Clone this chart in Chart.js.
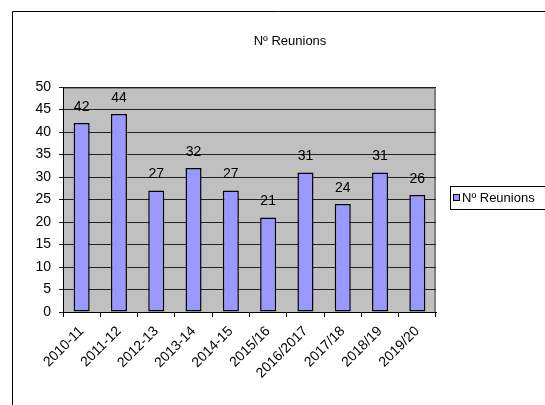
<!DOCTYPE html>
<html>
<head>
<meta charset="utf-8">
<script src="https://cdn.jsdelivr.net/npm/chart.js@4/dist/chart.umd.min.js"></script>
<style>
  html, body { margin: 0; padding: 0; background: #fff; }
  #wrap { width: 545px; height: 405px; }
</style>
</head>
<body>
<div id="wrap"><canvas id="chart" width="545" height="405"></canvas></div>
<script>
(function () {
  const TITLE = 'Nº Reunions';
  const SEASONS = ['2010-11', '2011-12', '2012-13', '2013-14', '2014-15', '2015/16', '2016/2017', '2017/18', '2018/19', '2019/20'];
  const MEETINGS = [42, 44, 27, 32, 27, 21, 31, 24, 31, 26];
  const Y_TICKS = [0, 5, 10, 15, 20, 25, 30, 35, 40, 45, 50];

  const FONT = '"Liberation Sans", Arial, sans-serif';
  const BAR_FILL = '#9999ff';

  // frame, title, plot background and legend drawn around the chart (Excel look)
  const excelDecor = {
    id: 'excelDecor',
    beforeDraw (chart) {
      const { ctx, chartArea: a } = chart;
      ctx.save();
      ctx.strokeStyle = '#000';
      ctx.lineWidth = 1;
      ctx.beginPath();
      ctx.moveTo(12.5, 405);
      ctx.lineTo(12.5, 11.5);
      ctx.lineTo(545, 11.5);
      ctx.stroke();

      ctx.fillStyle = '#c0c0c0';
      ctx.fillRect(a.left, a.top, a.right - a.left, a.bottom - a.top);
      ctx.strokeStyle = '#808080';
      ctx.lineWidth = 2;
      ctx.beginPath();
      ctx.moveTo(a.left, a.top + 1);
      ctx.lineTo(a.right - 1, a.top + 1);
      ctx.lineTo(a.right - 1, a.bottom);
      ctx.stroke();

      ctx.fillStyle = '#000';
      ctx.font = '13px ' + FONT;
      ctx.textAlign = 'center';
      ctx.textBaseline = 'middle';
      ctx.fillText(TITLE, 290, 41);
      ctx.restore();
    },
    afterDraw (chart) {
      const { ctx } = chart;
      ctx.save();
      // data labels
      const meta = chart.getDatasetMeta(0);
      ctx.fillStyle = '#000';
      ctx.font = '14px ' + FONT;
      ctx.textAlign = 'center';
      ctx.textBaseline = 'middle';
      meta.data.forEach((bar, i) => {
        ctx.fillText(String(MEETINGS[i]), bar.x, bar.y - 16);
      });

      // legend box
      ctx.strokeStyle = '#000';
      ctx.lineWidth = 1;
      ctx.strokeRect(450.5, 186.5, 100, 23);
      ctx.fillStyle = BAR_FILL;
      ctx.fillRect(453, 194, 6, 6);
      ctx.strokeRect(453.5, 194.5, 6, 6);
      ctx.fillStyle = '#000';
      ctx.font = '13px ' + FONT;
      ctx.textAlign = 'left';
      ctx.fillText(chart.data.datasets[0].label, 462, 198);
      ctx.restore();
    }
  };

  new Chart(document.getElementById('chart'), {
    type: 'bar',
    data: {
      labels: SEASONS,
      datasets: [{
        label: TITLE,
        data: MEETINGS,
        backgroundColor: BAR_FILL,
        borderColor: '#000',
        borderWidth: 1.5,
        borderSkipped: false,
        categoryPercentage: 1,
        barPercentage: 0.43
      }]
    },
    options: {
      responsive: false,
      animation: false,
      layout: { padding: { top: 87, right: 109, left: 0, bottom: 0 } },
      plugins: {
        legend: { display: false },
        title: { display: false },
        tooltip: { enabled: false }
      },
      scales: {
        x: {
          grid: { display: true, drawOnChartArea: false, color: '#000', tickLength: 5, offset: true },
          border: { display: true, color: '#000', width: 1 },
          ticks: {
            color: '#000',
            font: { family: FONT, size: 14 },
            minRotation: 45,
            maxRotation: 45,
            padding: 6,
            autoSkip: false
          },
          afterFit (scale) { scale.height = 93; }
        },
        y: {
          min: 0,
          max: 50,
          afterBuildTicks (scale) { scale.ticks = Y_TICKS.map(v => ({ value: v })); },
          grid: { color: '#222', tickLength: 4, lineWidth: 1 },
          border: { display: true, color: '#000', width: 1 },
          ticks: {
            color: '#000',
            font: { family: FONT, size: 14 },
            padding: 8
          },
          afterFit (scale) { scale.width = 63; }
        }
      }
    },
    plugins: [excelDecor]
  });
})();
</script>
</body>
</html>
